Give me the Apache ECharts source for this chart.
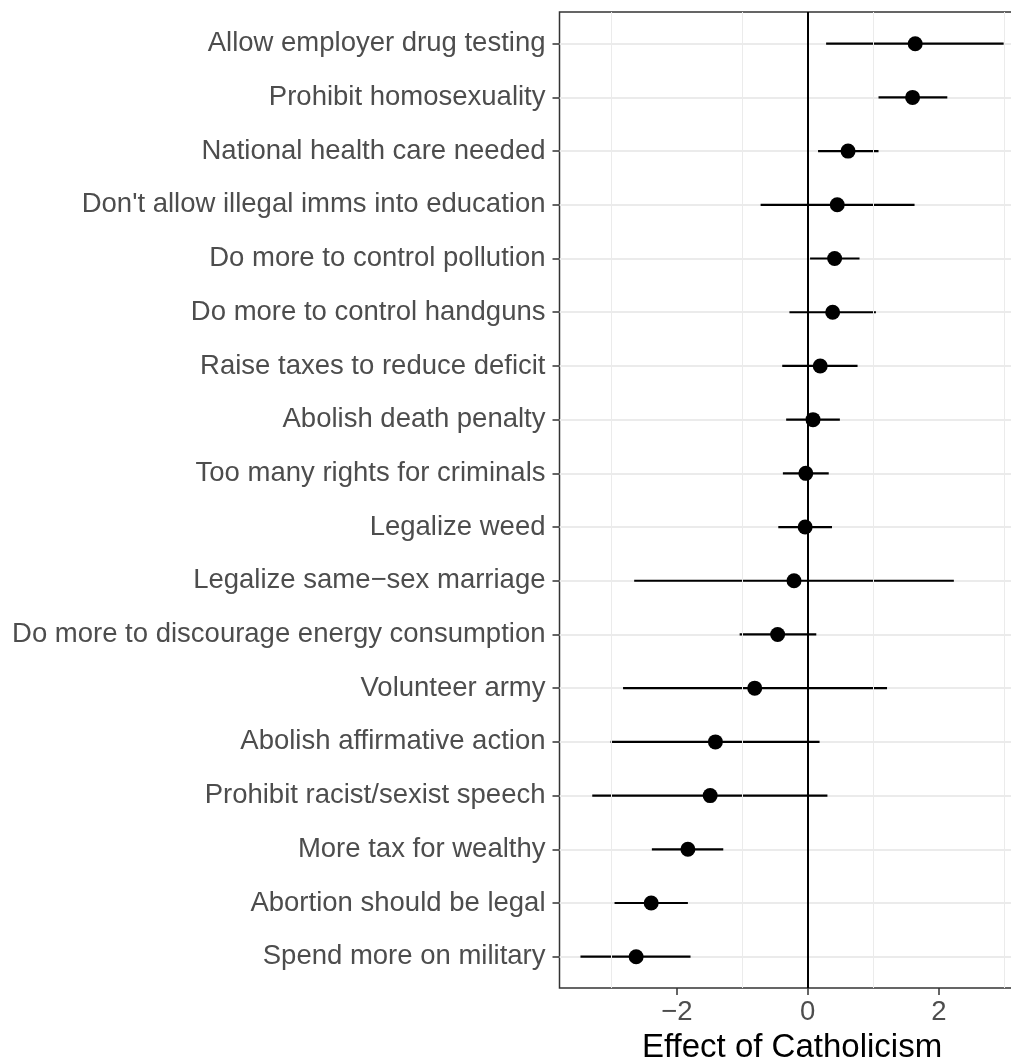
<!DOCTYPE html>
<html>
<head>
<meta charset="utf-8">
<script src="https://cdn.jsdelivr.net/npm/echarts@6/dist/echarts.min.js"></script>
<style>
html,body{margin:0;padding:0;background:#fff;overflow:hidden;width:1011px;height:1057px;}
#chart{width:1040px;height:1057px;}
</style>
</head>
<body>
<div id="chart"></div>
<script>
const categories = [
  "Allow employer drug testing",
  "Prohibit homosexuality",
  "National health care needed",
  "Don't allow illegal imms into education",
  "Do more to control pollution",
  "Do more to control handguns",
  "Raise taxes to reduce deficit",
  "Abolish death penalty",
  "Too many rights for criminals",
  "Legalize weed",
  "Legalize same\u2212sex marriage",
  "Do more to discourage energy consumption",
  "Volunteer army",
  "Abolish affirmative action",
  "Prohibit racist/sexist speech",
  "More tax for wealthy",
  "Abortion should be legal",
  "Spend more on military"
];
const estimate = [1.64, 1.60, 0.615, 0.45, 0.41, 0.38, 0.19, 0.08, -0.03, -0.04, -0.21, -0.46, -0.81, -1.41, -1.49, -1.83, -2.39, -2.62];
const lower    = [0.28, 1.08, 0.157, -0.72, 0.035, -0.28, -0.39, -0.33, -0.38, -0.45, -2.65, -1.04, -2.82, -3.01, -3.29, -2.38, -2.95, -3.47];
const upper    = [2.99, 2.13, 1.08, 1.63, 0.79, 1.04, 0.76, 0.49, 0.32, 0.37, 2.23, 0.13, 1.21, 0.18, 0.30, -1.29, -1.83, -1.79];
const xTicks = [-2, 0, 2];
const xMinorLines = [-3, -1, 1, 3];
const xMin = -3.79, xMax = 3.31;
const xTitle = "Effect of Catholicism";

const chart = echarts.init(document.getElementById('chart'), null, {renderer: 'canvas'});
const FONT = '"Liberation Sans", Arial, Helvetica, sans-serif';
const fmt = v => (v < 0 ? '\u2212' + Math.abs(v) : String(v));

const panel = {left: 559.5, top: 12, width: 465.1, height: 976};
const rows = {left: 559.5, top: 43.7, width: 465.1, height: 913};

const option = {
  animation: false,
  backgroundColor: '#ffffff',
  grid: [
    Object.assign({show: true, borderColor: '#333333', borderWidth: 1.5, backgroundColor: 'transparent', outerBoundsMode: 'none', containLabel: false}, panel),
    Object.assign({show: false, outerBoundsMode: 'none', containLabel: false}, rows)
  ],
  xAxis: [
    {
      gridIndex: 0, type: 'value', min: xMin, max: xMax, splitNumber: 3,
      axisLine: {show: false, onZero: false},
      axisTick: {show: true, length: 7, customValues: xTicks, lineStyle: {color: '#333333', width: 1.5}},
      axisLabel: {show: true, customValues: xTicks, formatter: fmt, fontFamily: FONT, fontSize: 27.5, color: '#4d4d4d', margin: 10.5},
      splitLine: {show: true, showMinLine: false, showMaxLine: false, lineStyle: {color: '#ebebeb', width: 2}},
      name: xTitle, nameLocation: 'middle', nameGap: 39.5,
      nameTextStyle: {fontFamily: FONT, fontSize: 33, color: '#000000'}
    },
    {
      gridIndex: 1, type: 'value', min: xMin, max: xMax,
      axisLine: {show: false, onZero: false}, axisTick: {show: false}, axisLabel: {show: false}, splitLine: {show: false}
    }
  ],
  yAxis: [
    {
      gridIndex: 0, type: 'value', min: 0, max: 1,
      axisLine: {show: false, onZero: false}, axisTick: {show: false}, axisLabel: {show: false}, splitLine: {show: false}
    },
    {
      gridIndex: 1, type: 'category', data: categories, inverse: true, boundaryGap: false,
      axisLine: {show: false, onZero: false},
      axisTick: {show: true, length: 7, interval: 0, lineStyle: {color: '#333333', width: 1.5}},
      axisLabel: {show: true, fontFamily: FONT, fontSize: 27.5, color: '#4d4d4d', margin: 14, interval: 0},
      splitLine: {show: true, interval: 0, lineStyle: {color: '#ebebeb', width: 2}}
    }
  ],
  series: [
    {
      type: 'scatter', xAxisIndex: 0, yAxisIndex: 0, data: [], z: 1, silent: true,
      markLine: {
        silent: true, symbol: ['none', 'none'], label: {show: false},
        lineStyle: {color: '#ebebeb', width: 1, type: 'solid'},
        data: xMinorLines.map(v => ({xAxis: v}))
      }
    },
    {
      type: 'scatter', xAxisIndex: 0, yAxisIndex: 0, data: [], z: 3, silent: true,
      markLine: {
        silent: true, symbol: ['none', 'none'], label: {show: false},
        lineStyle: {color: '#000000', width: 2, type: 'solid'},
        data: [{xAxis: 0}]
      }
    },
    {
      type: 'custom', xAxisIndex: 1, yAxisIndex: 1, z: 4, silent: true,
      data: categories.map((c, i) => [lower[i], upper[i], c]),
      encode: {x: [0, 1], y: 2},
      renderItem: function (params, api) {
        const a = api.coord([api.value(0), api.value(2)]);
        const b = api.coord([api.value(1), api.value(2)]);
        return {type: 'line', shape: {x1: a[0], y1: a[1], x2: b[0], y2: b[1]}, style: {stroke: '#000000', lineWidth: 2.2}};
      }
    },
    {
      type: 'scatter', xAxisIndex: 1, yAxisIndex: 1, z: 5, silent: true,
      symbol: 'circle', symbolSize: 15,
      itemStyle: {color: '#000000', opacity: 1},
      data: categories.map((c, i) => [estimate[i], c])
    }
  ]
};
chart.setOption(option);
</script>
</body>
</html>
